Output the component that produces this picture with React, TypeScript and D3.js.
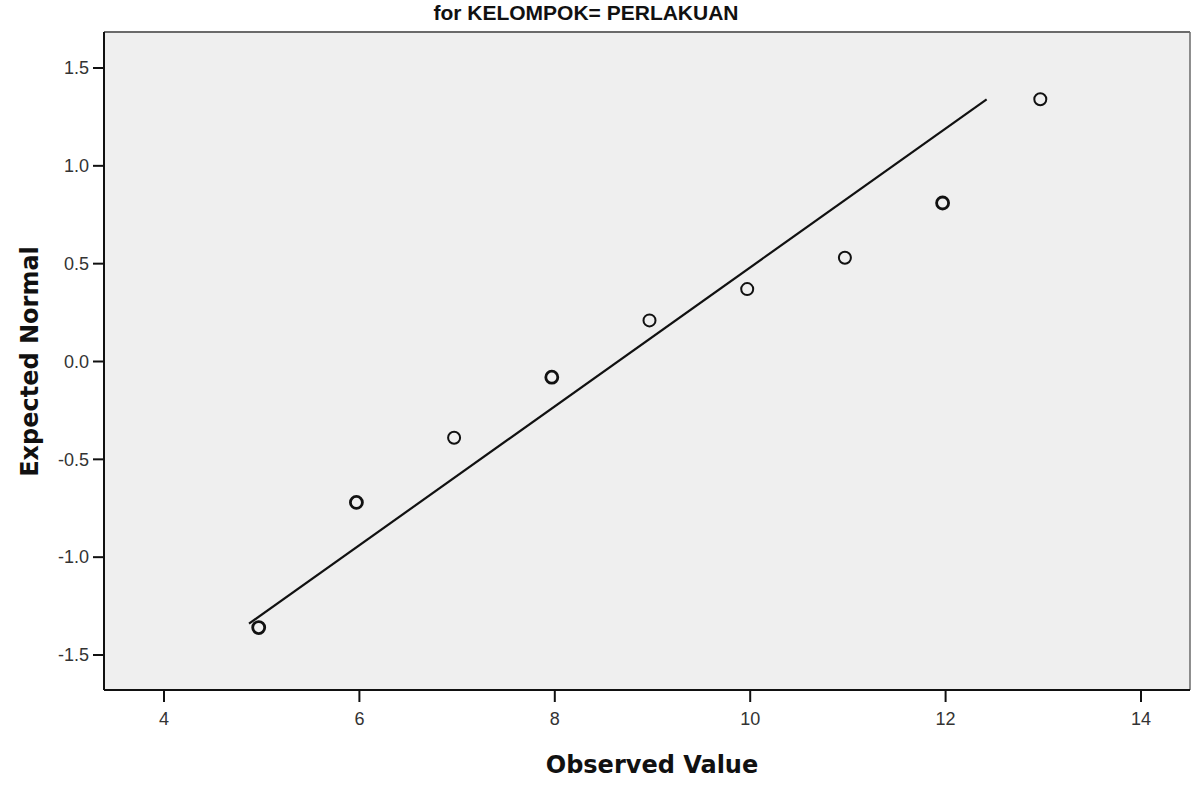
import React from 'react'
import * as d3 from 'd3'

// P-P / Q-Q style normal plot
const observed = [5, 6, 7, 8, 9, 10, 11, 12, 13]
const expected = [-1.36, -0.72, -0.39, -0.08, 0.21, 0.37, 0.53, 0.81, 1.34]
const repeats = [2, 2, 1, 2, 1, 1, 1, 2, 1]
const lineX = [4.87, 12.42]
const lineY = [-1.34, 1.34]
const xTicks = [4, 6, 8, 10, 12, 14]
const yTicks = [-1.5, -1.0, -0.5, 0.0, 0.5, 1.0, 1.5]
const title = 'for KELOMPOK= PERLAKUAN'
const xTitle = 'Observed Value'
const yTitle = 'Expected Normal'

const W = 1192
const H = 787
const box = { left: 104, top: 32, right: 1190, bottom: 690 }

const App = () => {
    const xScale = d3.scaleLinear().domain([4, 14]).range([164, 1141])
    const yScale = d3.scaleLinear().domain([-1.5, 1.5]).range([655, 68])
    // SPSS prints a plain hyphen for negatives
    const fmt = (v: number) => d3.format('.1f')(v).replace('\u2212', '-')
    const line = d3.line<number>()
        .x((d, i) => xScale(lineX[i]))
        .y((d, i) => yScale(lineY[i]))

    return (
        <svg width={W} height={H} style={{ position: 'absolute', left: 0, top: 0, background: '#fff' }}>
            <text x={586} y={20} textAnchor="middle" fontFamily="Liberation Sans, Arial, sans-serif"
                fontWeight="bold" fontSize={21} fill="#111">{title}</text>

            <rect x={box.left} y={box.top} width={box.right - box.left} height={box.bottom - box.top}
                fill="#efefef" stroke="none" />
            <line x1={box.left} x2={box.right} y1={box.top} y2={box.top} stroke="#6a6a6a" strokeWidth={2} />
            <line x1={box.right} x2={box.right} y1={box.top} y2={box.bottom} stroke="#6a6a6a" strokeWidth={1.5} />
            <line x1={box.left} x2={box.left} y1={box.top} y2={box.bottom} stroke="#111" strokeWidth={2} />
            <line x1={box.left} x2={box.right} y1={box.bottom} y2={box.bottom} stroke="#111" strokeWidth={2} />

            {yTicks.map(t => (
                <g key={t} transform={`translate(0,${yScale(t)})`}>
                    <line x1={box.left - 11} x2={box.left} stroke="#111" strokeWidth={2} />
                    <text x={box.left - 15} dy="0.35em" textAnchor="end" fontFamily="Liberation Sans, Arial, sans-serif"
                        fontSize={18} fill="#333">{fmt(t)}</text>
                </g>
            ))}
            {xTicks.map(t => (
                <g key={t} transform={`translate(${xScale(t)},0)`}>
                    <line y1={box.bottom} y2={box.bottom + 12} stroke="#111" strokeWidth={2} />
                    <text y={box.bottom + 35} textAnchor="middle" fontFamily="Liberation Sans, Arial, sans-serif"
                        fontSize={18} fill="#333">{t}</text>
                </g>
            ))}

            <path d={line([0, 1]) || ''} fill="none" stroke="#111" strokeWidth={2.2} />

            {observed.map((v, i) => (
                <circle key={i} cx={xScale(v) - 3} cy={yScale(expected[i])} r={6}
                    fill="none" stroke="#111" strokeWidth={repeats[i] > 1 ? 2.8 : 2} />
            ))}

            <text x={652} y={773} textAnchor="middle" fontFamily="DejaVu Sans, sans-serif"
                fontWeight="bold" fontSize={24} fill="#111">{xTitle}</text>
            <text transform={`translate(38,${yScale(0)}) rotate(-90)`} textAnchor="middle"
                fontFamily="DejaVu Sans, sans-serif" fontWeight="bold" fontSize={24} fill="#111">{yTitle}</text>
        </svg>
    )
}

export default App
